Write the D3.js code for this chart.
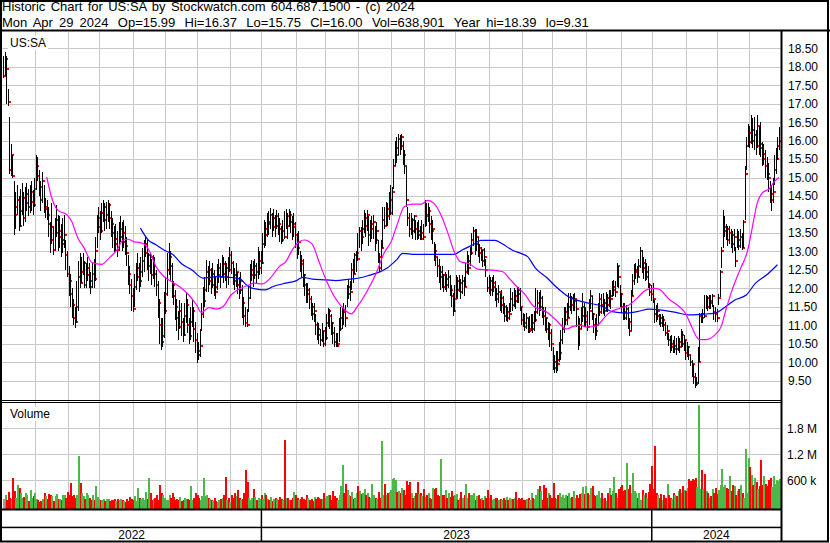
<!DOCTYPE html>
<html lang="en">
<head>
<meta charset="UTF-8">
<title>Historic Chart for US:SA</title>
<script src="https://d3js.org/d3.v7.min.js"></script>
<style>
  body { margin: 0; background: #fff; }
  svg text { font-family: "Liberation Sans", Arial, sans-serif; font-size: 12px; fill: #000; }
  svg text.header { font-size: 13px; }
</style>
</head>
<body>
<svg id="chart" width="830" height="543"></svg>
<script>
// header text
const headerTitle = "Historic Chart for US:SA by Stockwatch.com 604.687.1500 - (c) 2024";
const headerFields = ["Mon Apr 29 2024", "Op=15.99", "Hi=16.37", "Lo=15.75", "Cl=16.00",
                      "Vol=638,901", "Year hi=18.39", "lo=9.31"];
const symbol = "US:SA";

// daily bars, oldest first (one entry per trading day)
const closes = [
  17.75,18.20,17.95,17.05,15.20,15.60,15.05,14.00,14.20,14.40,
  13.70,14.10,14.45,13.90,14.30,14.55,14.20,14.35,14.60,14.25,
  14.70,15.30,15.05,14.75,14.40,14.90,14.15,14.20,14.00,13.75,
  13.30,13.65,13.05,13.50,13.85,13.40,13.55,13.20,13.30,13.45,
  12.90,12.40,12.20,11.85,11.55,11.20,11.10,11.50,12.30,12.15,
  12.45,12.70,12.10,12.35,12.55,12.20,12.05,12.40,12.25,13.00,
  13.65,13.90,13.55,14.05,14.20,13.85,14.00,14.25,13.90,13.75,
  13.50,13.20,13.35,13.05,13.40,13.60,13.25,13.50,13.15,12.95,
  12.40,12.10,11.80,11.45,12.05,12.30,12.55,12.20,12.45,12.75,
  12.95,13.20,12.60,12.90,12.85,12.35,12.60,12.40,12.10,11.60,
  11.00,10.55,10.70,11.40,11.85,12.50,12.85,12.60,12.10,11.80,
  11.50,11.20,10.95,11.40,11.10,10.75,11.25,11.55,11.00,10.70,
  11.10,11.40,10.90,10.60,10.30,10.20,10.45,11.30,11.65,11.95,
  12.45,12.20,12.50,12.10,12.40,12.05,11.90,12.35,12.55,12.30,
  12.65,12.40,12.30,12.55,12.50,12.90,12.70,12.35,12.20,12.45,
  12.10,11.95,12.20,11.60,11.25,11.05,11.00,11.75,12.35,12.50,
  12.35,12.60,12.45,12.55,12.75,12.70,13.20,13.60,13.45,13.80,
  13.75,14.00,13.65,13.90,13.70,13.95,13.75,13.60,13.30,13.55,
  13.40,13.95,13.70,14.00,13.80,13.65,13.75,13.45,13.10,13.25,
  12.75,12.65,12.35,12.10,11.85,11.95,11.70,11.50,11.30,11.40,
  11.00,10.90,10.75,10.60,10.85,10.50,10.65,11.05,11.40,11.25,
  11.05,10.80,10.55,10.45,10.50,10.90,11.20,11.40,11.35,11.20,
  11.85,12.05,11.90,12.50,12.40,12.90,12.95,12.80,13.55,13.40,
  13.60,13.90,13.70,14.00,13.45,13.60,13.75,13.80,13.30,13.55,
  12.85,12.55,13.10,13.85,13.70,14.15,13.95,14.05,14.40,14.60,
  15.30,15.80,15.60,16.05,15.85,16.10,15.60,15.30,14.40,13.90,
  13.60,13.85,13.55,13.95,13.60,13.45,13.55,13.35,13.50,13.40,
  14.00,13.95,14.10,13.75,13.55,13.60,13.00,12.85,12.60,12.30,
  12.45,12.35,12.05,12.25,12.10,12.30,11.95,11.80,11.40,11.70,
  12.20,11.95,12.15,11.90,12.20,12.05,12.45,12.75,12.55,12.95,
  13.30,13.55,13.20,13.40,13.10,12.95,13.05,12.75,12.85,12.50,
  12.00,12.20,11.95,12.05,12.15,11.85,11.70,11.90,11.55,11.75,
  11.50,11.25,11.35,11.20,11.30,11.70,11.55,11.80,11.65,11.95,
  11.85,11.50,11.15,11.05,10.95,11.20,10.85,10.90,11.05,10.90,
  11.15,11.35,11.60,11.50,11.75,11.40,11.25,11.20,10.90,11.00,
  10.80,10.50,10.00,9.85,10.05,9.95,10.25,10.60,10.90,11.15,
  11.35,11.20,11.50,11.75,11.55,11.65,11.70,11.45,11.00,10.90,
  11.25,11.50,11.10,11.25,10.95,11.40,11.80,11.30,11.00,10.85,
  11.00,11.35,11.70,11.55,11.60,11.40,11.75,11.55,11.80,11.70,
  11.95,12.05,11.90,12.60,12.30,11.85,11.50,11.35,11.20,11.45,
  11.10,10.85,11.80,12.20,12.45,12.50,12.30,12.60,13.00,12.55,
  12.70,12.30,12.45,12.10,11.90,11.85,11.70,11.30,11.25,11.40,
  11.20,11.05,11.15,11.00,10.80,10.85,10.60,10.40,10.50,10.35,
  10.45,10.35,10.55,10.40,10.75,10.50,10.60,10.25,10.40,10.20,
  10.00,9.95,9.60,9.40,9.45,10.00,11.25,11.20,11.30,11.25,
  11.75,11.50,11.65,11.60,11.80,11.35,11.30,11.20,11.75,12.45,
  13.00,13.55,13.65,13.60,13.30,13.50,13.45,13.20,13.40,12.75,
  13.30,13.15,13.40,13.10,13.80,15.10,15.85,16.20,15.95,16.30,
  16.00,16.15,15.85,16.40,15.90,15.80,15.50,15.65,15.30,15.10,
  15.00,14.40,14.55,14.60,15.20,15.50,15.85,16.00
];
const highs = [
  18.30,18.39,18.30,17.40,16.65,15.90,15.60,14.90,14.60,14.80,
  14.50,14.70,14.85,14.60,14.75,14.85,14.70,14.80,14.90,14.65,
  15.00,15.60,15.55,15.20,14.90,15.15,14.80,14.45,14.40,14.20,
  13.80,14.30,13.70,13.90,14.25,14.00,13.95,13.75,13.90,14.00,
  13.30,13.00,12.60,12.40,12.00,11.70,11.50,12.20,12.75,12.95,
  12.85,12.95,12.75,12.70,12.85,12.70,12.45,12.70,12.80,13.40,
  14.00,14.20,14.10,14.30,14.39,14.30,14.35,14.38,14.30,14.10,
  13.90,13.70,13.75,13.55,13.80,13.95,13.80,13.85,13.70,13.40,
  12.90,12.60,12.25,12.00,12.40,12.70,12.95,12.70,12.85,13.10,
  13.30,13.40,13.30,12.96,12.96,12.80,12.90,12.85,12.50,12.20,
  11.70,11.20,11.20,11.90,12.30,12.95,13.23,13.00,12.70,12.20,
  11.95,11.70,11.40,11.69,11.60,11.20,11.60,11.90,11.70,11.20,
  11.50,11.69,11.50,11.10,10.80,10.55,10.90,11.60,12.04,12.30,
  12.77,12.60,12.75,12.55,12.70,12.50,12.30,12.65,12.80,12.70,
  12.90,12.85,12.75,12.70,12.85,13.13,13.00,12.75,12.55,12.70,
  12.45,12.30,12.45,12.10,11.77,11.50,11.45,12.10,12.65,12.77,
  12.75,12.80,12.70,13.13,13.00,13.00,13.50,13.85,13.80,14.05,
  14.10,14.17,14.05,14.15,14.00,14.12,14.05,13.90,13.70,13.85,
  14.10,14.15,14.05,14.15,14.10,13.95,14.05,13.80,13.50,13.55,
  13.00,12.90,12.80,12.40,12.15,12.15,12.00,11.80,11.60,11.60,
  11.30,11.10,11.07,10.90,11.05,10.85,10.95,11.30,11.47,11.45,
  11.30,11.10,10.96,10.80,10.80,11.20,11.50,11.50,11.60,11.55,
  12.10,12.23,12.20,12.70,12.80,12.96,13.00,13.50,13.66,13.65,
  13.85,14.12,14.05,14.12,13.95,13.85,13.95,14.00,13.70,13.80,
  13.30,12.96,13.30,14.20,14.20,14.35,14.30,14.60,14.80,14.74,
  15.50,16.00,16.10,16.17,16.15,16.17,16.00,15.75,15.30,14.20,
  14.04,14.04,13.90,14.00,13.85,13.80,13.85,13.70,13.85,13.75,
  14.40,14.30,14.30,14.20,13.95,13.85,13.25,13.20,12.85,12.80,
  12.60,12.60,12.40,12.45,12.40,12.50,12.35,12.10,11.87,12.10,
  12.35,12.30,12.35,12.25,12.35,12.30,12.70,13.00,12.90,13.13,
  13.50,13.66,13.60,13.60,13.40,13.20,13.13,13.05,13.10,12.80,
  12.30,12.35,12.30,12.30,12.35,12.20,12.00,12.10,11.87,11.95,
  11.80,11.60,11.55,11.50,11.60,12.00,11.90,12.00,11.95,12.04,
  12.04,12.00,11.50,11.34,11.30,11.34,11.20,11.25,11.30,11.30,
  11.40,12.00,11.96,11.90,11.96,11.80,11.50,11.50,11.20,11.10,
  11.07,10.90,10.42,10.20,10.30,10.30,10.55,10.88,11.20,11.50,
  11.50,11.60,11.87,11.87,11.80,11.85,11.87,11.70,11.24,11.20,
  11.50,11.87,11.60,11.50,11.40,11.70,11.95,11.80,11.34,11.20,
  11.30,11.60,11.87,11.85,11.87,11.70,11.90,11.85,11.95,11.95,
  12.20,12.23,12.20,12.68,12.60,12.10,11.87,11.60,11.60,11.55,
  11.50,11.20,11.95,12.40,12.65,12.70,12.60,12.80,13.13,13.05,
  12.85,12.80,12.70,12.60,12.15,12.10,12.15,11.69,11.55,11.60,
  11.30,11.30,11.30,11.24,11.10,11.00,10.80,10.70,10.75,10.60,
  10.70,10.65,10.70,10.65,10.90,10.85,10.75,10.61,10.55,10.45,
  10.20,10.07,9.95,9.70,9.60,10.40,11.34,11.34,11.45,11.82,
  11.82,11.80,11.82,11.82,11.85,11.55,11.50,11.45,11.85,12.50,
  13.13,14.12,13.95,13.75,13.70,13.70,13.60,13.55,13.60,13.13,
  13.60,13.55,13.60,13.50,13.85,15.30,16.10,16.46,16.40,16.69,
  16.60,16.65,16.30,16.70,16.40,16.50,15.95,15.90,15.74,15.55,
  15.39,14.90,14.80,15.00,15.60,15.80,16.10,16.37
];
const lows = [
  17.70,17.75,17.00,16.95,15.10,15.05,15.00,13.45,13.60,14.00,
  13.55,13.65,14.00,13.70,13.80,14.10,13.95,14.05,14.10,14.00,
  14.20,14.65,14.90,14.50,14.10,14.30,14.05,13.90,13.85,13.40,
  12.95,13.20,12.90,13.00,13.40,13.00,13.10,12.85,12.95,13.10,
  12.50,12.30,11.80,11.50,11.20,11.00,10.93,11.05,11.40,12.00,
  12.15,12.35,12.00,12.00,12.20,12.00,11.85,12.00,12.00,12.20,
  13.10,13.50,13.30,13.50,13.80,13.55,13.60,13.80,13.60,13.40,
  13.10,12.95,13.00,12.85,13.00,13.25,13.00,13.10,12.90,12.60,
  12.10,11.85,11.40,11.35,11.50,11.95,12.20,11.90,12.05,12.30,
  12.45,12.85,12.50,12.20,12.40,12.10,12.25,12.05,11.80,11.20,
  10.50,10.34,10.40,10.65,11.30,11.80,12.35,12.20,11.75,11.55,
  11.15,10.85,10.60,10.90,10.70,10.55,10.70,11.05,10.80,10.50,
  10.60,10.95,10.55,10.25,9.99,10.05,10.15,10.85,11.20,11.50,
  11.90,11.90,12.10,11.85,12.00,11.80,11.70,11.95,12.15,12.00,
  12.30,12.15,12.20,12.00,12.10,12.45,12.40,12.10,11.95,12.05,
  11.85,11.70,11.85,11.20,11.00,10.96,10.96,11.35,11.70,12.20,
  12.05,12.25,12.15,12.25,12.35,12.40,12.65,13.10,13.15,13.40,
  13.45,13.60,13.40,13.55,13.40,13.60,13.45,13.25,13.20,13.25,
  13.35,13.60,13.35,13.65,13.50,13.30,13.40,13.10,12.80,12.90,
  12.45,12.30,12.05,11.80,11.60,11.60,11.45,11.25,11.15,11.10,
  10.75,10.60,10.50,10.45,10.55,10.42,10.45,10.60,10.95,10.90,
  10.75,10.50,10.40,10.40,10.42,10.55,10.85,10.90,11.00,10.96,
  11.50,11.70,11.65,11.95,12.15,12.40,12.45,12.75,13.10,13.00,
  13.20,13.50,13.40,13.55,13.15,13.25,13.35,13.35,13.00,13.20,
  12.70,12.45,12.50,13.10,13.60,13.70,13.70,13.85,14.00,14.00,
  14.70,15.30,15.40,15.60,15.60,15.75,15.35,15.10,14.20,13.70,
  13.40,13.45,13.35,13.50,13.30,13.30,13.35,13.30,13.30,13.30,
  13.66,13.70,13.80,13.50,13.30,13.20,12.75,12.60,12.30,12.15,
  11.95,12.00,11.90,11.95,11.90,12.00,11.80,11.50,11.24,11.35,
  11.75,11.70,11.90,11.70,11.85,11.80,12.05,12.40,12.35,12.60,
  12.90,13.15,12.90,13.00,12.85,12.70,12.75,12.58,12.60,12.30,
  11.90,11.85,11.80,11.80,11.90,11.65,11.50,11.60,11.40,11.34,
  11.30,11.10,11.12,11.10,11.15,11.35,11.40,11.50,11.45,11.60,
  11.60,11.40,11.00,10.96,10.85,10.90,10.80,10.80,10.85,10.80,
  10.85,11.10,11.30,11.24,11.40,11.20,11.00,10.85,10.80,10.60,
  10.42,10.30,9.80,9.70,9.72,9.75,10.00,10.07,10.50,10.80,
  11.00,11.00,11.20,11.40,11.30,11.40,11.40,10.95,10.34,10.45,
  10.90,11.10,10.96,10.96,10.85,11.00,11.45,11.15,10.80,10.61,
  10.70,11.00,11.24,11.30,11.30,11.24,11.40,11.35,11.50,11.45,
  11.77,11.80,11.77,12.04,12.00,11.50,11.33,11.15,11.15,11.15,
  10.90,10.70,10.85,11.80,12.10,12.25,12.15,12.30,12.55,12.41,
  12.25,12.20,12.23,12.00,11.80,11.65,11.60,11.07,11.10,11.15,
  11.00,10.96,10.96,10.85,10.70,10.60,10.45,10.25,10.30,10.25,
  10.25,10.20,10.30,10.25,10.40,10.40,10.30,10.07,10.15,10.07,
  9.90,9.60,9.40,9.31,9.35,9.40,10.00,11.05,11.06,11.20,
  11.45,11.40,11.45,11.45,11.50,11.15,11.10,11.10,11.55,11.77,
  12.55,13.10,13.40,13.30,13.15,13.20,13.10,12.95,13.00,12.58,
  13.10,13.05,13.10,13.05,13.10,13.85,15.20,15.82,15.80,15.90,
  15.80,15.75,15.60,15.80,15.60,15.55,15.30,15.35,15.00,14.93,
  14.60,14.31,14.09,14.30,14.80,15.10,15.48,15.75
];
// volume in thousands of shares
const volumes = [
  180,250,150,330,200,180,660,350,200,490,
  420,300,200,210,300,250,120,380,200,230,
  300,180,140,110,120,170,300,230,160,290,
  250,230,120,230,290,180,160,150,260,250,
  200,320,250,540,230,250,200,260,1150,540,
  300,240,180,300,250,200,140,270,150,470,
  220,180,150,150,160,130,170,180,120,150,
  150,180,130,180,150,160,150,120,100,160,
  120,220,160,150,230,130,430,200,170,200,
  150,330,160,645,300,150,160,200,250,150,
  500,300,250,200,150,150,260,200,300,220,
  150,180,150,210,130,150,200,180,160,150,
  470,150,200,300,250,200,150,240,660,230,
  250,200,170,150,120,200,130,100,150,180,
  200,250,685,150,200,100,250,200,300,230,
  380,200,150,180,300,840,560,200,150,200,
  400,220,150,200,180,260,180,300,250,160,
  150,210,120,180,200,160,150,220,180,150,
  1530,200,190,150,140,200,320,250,200,150,
  180,220,160,150,250,200,150,180,120,220,
  180,220,200,160,180,300,200,230,250,260,
  150,350,230,200,150,250,480,950,300,515,
  370,250,240,330,180,190,300,470,350,280,
  300,400,250,300,210,200,520,250,200,180,
  320,200,1500,250,520,260,300,340,380,620,
  650,600,320,350,300,420,380,250,585,500,
  550,300,200,240,300,560,280,300,240,400,
  210,250,300,200,180,420,400,420,250,230,
  1090,250,250,380,200,300,210,350,230,250,
  280,150,200,330,200,250,520,200,300,260,
  270,300,150,240,260,180,200,150,230,200,
  380,200,260,150,180,200,200,150,170,150,
  200,150,220,150,200,170,160,200,330,150,
  200,180,200,150,150,180,200,150,300,200,
  180,250,400,480,350,150,500,420,200,300,
  250,200,530,200,180,250,300,220,260,200,
  250,230,300,200,220,350,200,250,200,280,
  300,450,280,480,300,250,420,470,250,230,
  250,350,200,300,180,200,120,300,420,250,
  350,685,300,200,400,450,500,350,380,1000,
  400,500,300,760,350,300,200,300,150,380,
  250,300,200,330,520,930,400,1390,300,260,
  200,280,150,260,200,520,250,200,180,300,
  260,230,350,400,300,480,380,350,420,620,
  580,620,600,650,450,2340,400,830,400,750,
  350,300,200,230,400,300,420,280,380,500,
  860,450,500,420,400,705,350,500,480,250,
  350,400,500,300,200,1320,300,1120,900,720,
  500,650,550,400,480,1070,500,700,520,480,
  600,650,450,700,520,600,580,639
];

// moving averages: [trading day, price]
const maShort = [
  [28,15.02],[31,14.48],[35,14.12],[41,13.99],[44,13.81],[48,13.36],[52,13.09],[57,12.70],
  [63,12.65],[68,12.82],[73,13.04],[77,13.31],[80,13.33],[84,13.26],[88,13.24],[91,13.18],
  [94,12.99],[98,12.59],[103,12.32],[108,12.18],[113,12.05],[119,11.82],[124,11.55],[127,11.35],
  [132,11.48],[137,11.44],[141,11.51],[146,11.82],[152,12.00],[157,12.08],[161,12.14],[166,12.12],
  [171,12.27],[177,12.59],[181,12.72],[186,13.09],[190,13.27],[193,13.31],[198,13.20],[202,12.77],
  [206,12.32],[211,11.87],[218,11.46],[223,11.31],[227,11.51],[233,11.91],[239,12.41],[244,12.95],
  [249,13.30],[252,13.67],[257,14.21],[262,14.28],[268,14.28],[272,14.38],[276,14.30],[281,13.94],
  [285,13.49],[289,12.99],[293,12.72],[299,12.66],[304,12.52],[311,12.50],[320,12.45],[324,12.28],
  [329,12.05],[334,11.85],[340,11.51],[348,11.37],[354,11.15],[361,10.90],[365,10.97],[370,11.00],
  [374,10.95],[380,10.98],[384,11.15],[388,11.33],[395,11.46],[401,11.55],[406,11.73],[412,11.96],
  [417,12.00],[420,11.98],[427,11.69],[433,11.51],[437,11.33],[440,11.06],[444,10.70],[446,10.61],
  [450,10.61],[456,10.74],[460,10.97],[463,11.42],[467,11.96],[472,12.50],[477,13.04],[480,13.67],
  [483,14.30],[486,14.57],[491,14.71],[494,14.89],[497,15.00]
];
const maLong = [
  [88,13.63],[93,13.31],[98,13.18],[103,13.04],[109,12.91],[114,12.68],[121,12.50],[128,12.28],
  [137,12.32],[145,12.30],[152,12.25],[156,12.09],[160,12.00],[168,11.96],[173,12.05],[181,12.14],
  [188,12.21],[192,12.30],[198,12.25],[207,12.23],[213,12.21],[222,12.25],[228,12.28],[235,12.36],
  [241,12.44],[246,12.55],[252,12.77],[256,12.95],[264,12.92],[275,12.92],[289,12.92],[294,13.04],
  [301,13.18],[306,13.30],[315,13.30],[320,13.20],[326,13.04],[332,12.94],[336,12.86],[341,12.55],
  [348,12.30],[354,12.05],[363,11.75],[373,11.62],[384,11.51],[390,11.37],[399,11.33],[406,11.37],
  [414,11.44],[422,11.41],[431,11.35],[439,11.28],[448,11.30],[456,11.33],[463,11.51],[469,11.69],
  [476,11.82],[482,12.14],[489,12.36],[496,12.64]
];

// first trading day of each month, and of each year
const monthStarts = [21,42,62,84,104,125,146,166,188,207,228,249,270,290,312,333,352,374,396,416,438,458,478];
const years = ["2022", "2023", "2024"];
const yearStarts = [0, 166, 416];

const priceTicks = [9.5,10,10.5,11,11.5,12,12.5,13,13.5,14,14.5,15,15.5,16,16.5,17,17.5,18,18.5];
const volumeTicks = [600, 1200, 1800];
const volumeTickLabels = ["600 k", "1.2 M", "1.8 M"];

// ---- layout ----
const W = 830, H = 543;
const plotLeft = 2, plotRight = 781;
const priceTop = 32, priceBottom = 400;
const volBottom = 508.5;
const N = closes.length;

const svg = d3.select("#chart");

const x = d3.scaleLinear().domain([0, N - 1]).range([3, 779]);
const step = x(1) - x(0);
const yPrice = d3.scaleLinear().domain([9.5, 18.5]).range([380.7, 48.3]);
const yVol = d3.scaleLinear().domain([0, 1800]).range([506.3, 428.3]);
const gridX = d => Math.round(x(d) - step / 2) + 0.5;

svg.append("rect").attr("width", W).attr("height", H).attr("fill", "#fff");

// clip for the price panel
svg.append("clipPath").attr("id", "priceClip")
  .append("rect").attr("x", plotLeft).attr("y", priceTop)
  .attr("width", plotRight - plotLeft).attr("height", priceBottom - priceTop);

// grid
const grid = svg.append("g").attr("stroke", "#c8c8c8").attr("stroke-width", 1)
  .attr("shape-rendering", "crispEdges");
grid.selectAll(".gp").data(priceTicks).join("line")
  .attr("x1", plotLeft).attr("x2", plotRight)
  .attr("y1", d => Math.round(yPrice(d)) + 0.5).attr("y2", d => Math.round(yPrice(d)) + 0.5);
grid.selectAll(".gv").data(volumeTicks).join("line")
  .attr("x1", plotLeft).attr("x2", plotRight)
  .attr("y1", d => Math.round(yVol(d)) + 0.5).attr("y2", d => Math.round(yVol(d)) + 0.5);
grid.selectAll(".gm").data(monthStarts).join("line")
  .attr("x1", gridX).attr("x2", gridX)
  .attr("y1", priceTop).attr("y2", volBottom);

// price bars (high-low line + red close tick)
const bars = svg.append("g").attr("clip-path", "url(#priceClip)")
  .attr("shape-rendering", "crispEdges")
  .selectAll("g").data(d3.range(N)).join("g");
bars.append("rect")
  .attr("x", i => Math.round(x(i)))
  .attr("width", 1)
  .attr("y", i => yPrice(highs[i]))
  .attr("height", i => Math.max(1, yPrice(lows[i]) - yPrice(highs[i])))
  .attr("fill", "#000");
bars.append("rect")
  .attr("x", i => Math.round(x(i)) + 1)
  .attr("width", 2)
  .attr("y", i => Math.round(yPrice(closes[i])) - 1)
  .attr("height", 2)
  .attr("fill", "#ff0000");

// moving averages
const maLine = d3.line().x(d => x(d[0])).y(d => yPrice(d[1])).curve(d3.curveMonotoneX);
const maG = svg.append("g").attr("clip-path", "url(#priceClip)").attr("fill", "none");
maG.append("path").datum(maLong).attr("d", maLine).attr("stroke", "#0000ff").attr("stroke-width", 1.2);
maG.append("path").datum(maShort).attr("d", maLine).attr("stroke", "#ff00ff").attr("stroke-width", 1.2);

// volume bars, coloured by the day's move
svg.append("g").attr("shape-rendering", "crispEdges")
  .selectAll("rect").data(volumes).join("rect")
  .attr("x", (d, i) => Math.round(x(i)))
  .attr("width", 2)
  .attr("y", d => yVol(d))
  .attr("height", d => volBottom - yVol(d))
  .attr("fill", (d, i) => {
    if (i === 0 || closes[i] === closes[i - 1]) return "#a0a0a0";
    return closes[i] > closes[i - 1] ? "#4cb84a" : "#ff0000";
  });

// right-hand axes
const axisFont = "Liberation Sans, Arial, sans-serif";
const priceAxis = svg.append("g").attr("transform", `translate(${plotRight + 2},0)`)
  .call(d3.axisRight(yPrice).tickValues(priceTicks).tickFormat(d3.format(".2f")).tickSize(0).tickPadding(5));
const volAxis = svg.append("g").attr("transform", `translate(${plotRight + 1},0)`)
  .call(d3.axisRight(yVol).tickValues(volumeTicks).tickFormat((d, i) => volumeTickLabels[i]).tickSize(0).tickPadding(5));
[priceAxis, volAxis].forEach(a => {
  a.select(".domain").remove();
  a.attr("font-size", 12).attr("font-family", axisFont);
  a.selectAll("text").attr("fill", "#000");
});

// panel labels with white backing
function boxedLabel(txt, lx, ly) {
  const g = svg.append("g");
  const bg = g.append("rect").attr("fill", "#fff");
  const t = g.append("text").attr("x", lx).attr("y", ly).text(txt);
  const b = t.node().getBBox();
  bg.attr("x", b.x - 2).attr("y", b.y).attr("width", b.width + 4).attr("height", b.height);
}
boxedLabel(symbol, 10, 46.5);
boxedLabel("Volume", 10, 418);

// frame lines
const frame = svg.append("g").attr("fill", "#000");
frame.append("rect").attr("x", 0).attr("y", 29.5).attr("width", W).attr("height", 2);        // under header
frame.append("rect").attr("x", 0).attr("y", 400).attr("width", plotRight).attr("height", 1);  // volume top
frame.append("rect").attr("x", 0).attr("y", 402).attr("width", plotRight).attr("height", 1);
frame.append("rect").attr("x", 0).attr("y", 508.5).attr("width", plotRight).attr("height", 2); // volume base
frame.append("rect").attr("x", 0).attr("y", 526.7).attr("width", plotRight).attr("height", 1.5);
frame.append("rect").attr("x", 780.5).attr("y", 30).attr("width", 2).attr("height", 512);
svg.append("rect").attr("x", 1).attr("y", 1).attr("width", 827).attr("height", 540.5)
  .attr("fill", "none").attr("stroke", "#000").attr("stroke-width", 2);

// year band
const yearEdges = yearStarts.map(d => d === 0 ? plotLeft : x(d) - step / 2).concat([plotRight]);
frame.selectAll(".ysep").data(yearStarts.slice(1)).join("rect")
  .attr("x", d => x(d) - step / 2 - 0.75).attr("y", 509).attr("width", 1.5).attr("height", 32);
svg.append("g").selectAll("text").data(years).join("text")
  .attr("x", (d, i) => (yearEdges[i] + yearEdges[i + 1]) / 2)
  .attr("y", 538.5)
  .attr("text-anchor", "middle")
  .text(d => d);

// header: title line, then the quote fields spaced apart
svg.append("text").attr("class", "header")
  .attr("x", 2).attr("y", 11)
  .style("word-spacing", "1.7px")
  .text(headerTitle);
svg.append("text").attr("class", "header")
  .attr("x", 2).attr("y", 26.8)
  .style("word-spacing", "2.5px")
  .selectAll("tspan").data(headerFields).join("tspan")
  .attr("dx", (d, i) => i === 0 ? 0 : 9.3)
  .text(d => d);
</script>
</body>
</html>
